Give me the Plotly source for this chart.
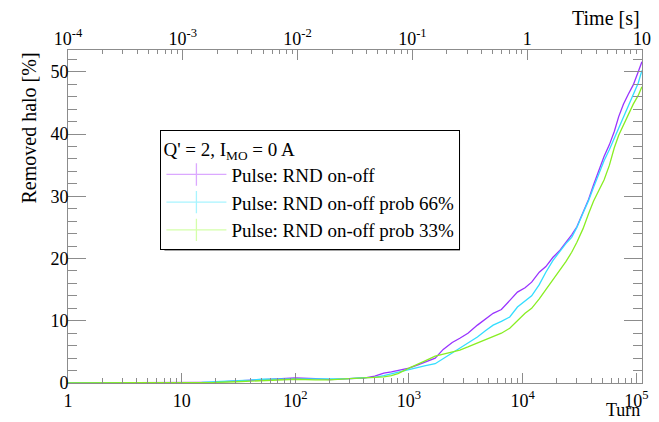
import plotly.graph_objects as go

# Turn numbers at which the removed-halo fraction is sampled
turns = [1, 2, 3, 5, 7, 10, 15, 20, 30, 40, 50, 70, 100, 150, 200, 300, 400, 500,
         600, 700, 800, 1000, 1200, 1400, 1700, 2000, 2400, 2800, 3300, 4000, 4700,
         5500, 6500, 7700, 9000, 10500, 12000, 14000, 16000, 18500, 21000, 24000,
         27000, 30000, 34000, 38000, 42000, 47000, 52000, 58000, 64000, 70000,
         77000, 85000, 94000, 104000, 112000]

# Removed halo [%] for each pulsing scheme
rnd_onoff = [0, 0, 0, 0, 0.05, 0.1, 0.1, 0.15, 0.3, 0.4, 0.6, 0.65, 0.8, 0.7, 0.55,
             0.7, 0.8, 1.1, 1.6, 1.8, 2.0, 2.4, 2.9, 3.4, 4.0, 5.4, 6.5, 7.2, 8.0,
             9.3, 10.3, 11.2, 11.8, 13.3, 14.6, 15.3, 16.2, 17.8, 18.7, 20.2, 21.2,
             22.6, 23.8, 25.1, 27.5, 29.5, 31.8, 34.2, 36.4, 38.3, 40.4, 42.8, 44.8,
             46.4, 47.9, 50.0, 51.6]
rnd_prob66 = [0, 0, 0, 0, 0.05, 0.1, 0.1, 0.2, 0.3, 0.45, 0.6, 0.6, 0.7, 0.6, 0.6,
              0.7, 0.85, 0.9, 1.2, 1.5, 1.7, 2.1, 2.5, 2.8, 3.1, 3.9, 4.8, 5.6, 6.4,
              7.4, 8.4, 9.3, 9.9, 10.6, 12.2, 13.2, 14.0, 15.8, 17.8, 19.7, 21.0,
              22.4, 23.4, 25.0, 27.3, 29.3, 31.4, 33.8, 35.7, 37.5, 39.3, 41.0, 42.9,
              44.6, 46.3, 48.2, 50.2]
rnd_prob33 = [0, 0, 0, 0, 0.05, 0.05, 0.1, 0.1, 0.2, 0.3, 0.45, 0.5, 0.6, 0.5, 0.5,
              0.7, 0.8, 0.9, 1.0, 1.2, 1.5, 2.4, 3.0, 3.6, 4.3, 4.6, 4.9, 5.3, 5.8,
              6.4, 7.0, 7.5, 8.0, 8.8, 10.0, 11.2, 12.0, 13.5, 15.0, 16.5, 18.0,
              19.5, 21.0, 22.6, 24.8, 27.2, 29.2, 31.0, 32.6, 35.0, 37.8, 39.8, 41.5,
              43.0, 44.8, 46.2, 47.6]

series_names = ["Pulse: RND on-off", "Pulse: RND on-off prob 66%", "Pulse: RND on-off prob 33%"]
line_colors = ["#9933ff", "#33ddff", "#88ee22"]
legend_colors = ["#dba8ff", "#a8f4ff", "#d4ffaa"]

turn_ticks = [1, 10, 100, 1000, 10000, 100000]
turn_labels = ["1", "10", "10<sup>2</sup>", "10<sup>3</sup>", "10<sup>4</sup>", "10<sup>5</sup>"]
time_ticks = [1e-4, 1e-3, 1e-2, 1e-1, 1, 10]
time_labels = ["10<sup>-4</sup>", "10<sup>-3</sup>", "10<sup>-2</sup>", "10<sup>-1</sup>", "1", "10"]

FONT = "Liberation Serif"
AXIS_GREY = "#8c8c8c"

fig = go.Figure()

for ys, name, col in zip([rnd_onoff, rnd_prob66, rnd_prob33], series_names, line_colors):
    fig.add_trace(go.Scatter(x=turns, y=ys, mode="lines", line=dict(color=col, width=1.3),
                             showlegend=False, hoverinfo="skip"))

# legend entries: line with a vertical error-bar style marker
for name, col in zip(series_names, legend_colors):
    fig.add_trace(go.Scatter(x=[None], y=[None], mode="lines+markers", name=name,
                             line=dict(color=col, width=1.3),
                             marker=dict(symbol="line-ns", size=18,
                                         line=dict(color=col, width=1.3))))

# invisible trace so the top (time) axis is drawn
fig.add_trace(go.Scatter(x=[None], y=[None], xaxis="x2", showlegend=False, hoverinfo="skip"))


def minor_vals(lo_exp, hi_exp):
    vals = []
    for e in range(lo_exp, hi_exp + 1):
        for m in range(2, 10):
            vals.append(m * 10.0 ** e)
    return vals


fig.update_layout(
    width=659, height=422,
    margin=dict(l=68, r=8, t=50, b=39),
    paper_bgcolor="white", plot_bgcolor="white",
    font=dict(family=FONT, size=18, color="black"),
    xaxis=dict(type="log", range=[0, 5.05], tickvals=turn_ticks, ticktext=turn_labels,
               ticks="inside", ticklen=10, tickcolor=AXIS_GREY, tickwidth=1,
               minor=dict(tickvals=minor_vals(0, 5), ticks="inside", ticklen=5,
                          tickcolor=AXIS_GREY, tickwidth=1, showgrid=False),
               showline=True, linecolor=AXIS_GREY, linewidth=1, showgrid=False,
               zeroline=False, tickfont=dict(size=18), ticklabelstandoff=1),
    xaxis2=dict(type="log", range=[-4, 1], overlaying="x", side="top", anchor="y",
                tickvals=time_ticks, ticktext=time_labels,
                ticks="inside", ticklen=10, tickcolor=AXIS_GREY, tickwidth=1,
                minor=dict(tickvals=minor_vals(-4, 0), ticks="inside", ticklen=4,
                           tickcolor=AXIS_GREY, tickwidth=1, showgrid=False),
                showline=True, linecolor=AXIS_GREY, linewidth=1, showgrid=False,
                zeroline=False, tickfont=dict(size=18), ticklabelstandoff=-3),
    yaxis=dict(range=[0, 53.5], tickvals=[0, 10, 20, 30, 40, 50],
               ticks="inside", ticklen=18, tickcolor=AXIS_GREY, tickwidth=1,
               minor=dict(dtick=2, ticks="inside", ticklen=9, tickcolor=AXIS_GREY,
                          tickwidth=1, showgrid=False),
               showline=True, linecolor=AXIS_GREY, linewidth=1, mirror="ticks",
               showgrid=False, zeroline=False, tickfont=dict(size=18),
               ticklabelstandoff=-5),
    legend=dict(x=0.161, y=0.76, xanchor="left", yanchor="top",
                bgcolor="white", bordercolor="black", borderwidth=1,
                font=dict(family=FONT, size=19),
                title=dict(text="Q' = 2, I<sub>MO</sub> = 0 A", font=dict(family=FONT, size=19)),
                tracegroupgap=0, itemwidth=60),
    # drop shadow behind the legend box
    shapes=[dict(type="rect", xref="paper", yref="paper",
                 x0=0.168, x1=0.683, y0=0.398, y1=0.75,
                 fillcolor="#4d4d4d", line=dict(width=0), layer="above")],
    annotations=[
        dict(text="Removed halo [%]", textangle=-90, xref="paper", yref="paper",
             x=-0.068, y=1.0, xanchor="center", yanchor="top", showarrow=False,
             font=dict(family=FONT, size=20)),
        dict(text="Time [s]", xref="paper", yref="paper", x=1.0, y=1.096,
             xanchor="right", yanchor="middle", showarrow=False,
             font=dict(family=FONT, size=20)),
        dict(text="Turn", xref="paper", yref="paper", x=1.0, y=-0.117,
             xanchor="right", yanchor="bottom", showarrow=False,
             font=dict(family=FONT, size=18)),
    ],
)

fig.write_html("out.html")
